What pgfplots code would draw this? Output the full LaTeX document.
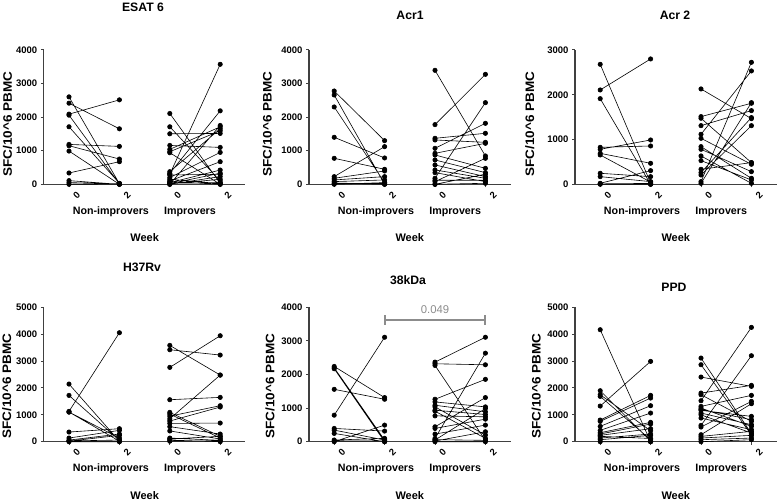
\documentclass[border=0pt]{standalone}
\usepackage{fontspec}
\setmainfont{Liberation Sans}
\usepackage{pgfplots}
\pgfplotsset{compat=1.18}
\definecolor{axc}{gray}{0.25}
\definecolor{sig}{gray}{0.55}
\pgfplotsset{
 panel/.style={scale only axis, width=201.6pt, height=134.3pt, anchor=south west,
  xmin=-0.5, xmax=3.5, ymin=0, axis lines=left,
  axis line style={-, line width=1.3pt, axc}, clip=false,
  xtick={0,1,2,3}, xticklabels={0,2,0,2}, tick align=outside, major tick length=3pt,
  tick style={line width=1pt, axc},
  ticklabel style={font=\fontsize{9.5}{9.5}\selectfont\bfseries},
  xticklabel style={rotate=45, anchor=center, yshift=-11pt},
  /pgf/number format/assume math mode=true, scaled y ticks=false,
  yticklabel style={/pgf/number format/1000 sep={}},
  unbounded coords=jump},
 pr/.style={black, line width=0.6pt, mark=*, mark size=2.2pt, mark options={solid}},
}
\newcommand{\grouplabels}{%
 \node[font=\fontsize{10.7}{10.7}\selectfont\bfseries] at (axis cs:0.83,0) [yshift=-27.4pt] {Non-improvers};
 \node[font=\fontsize{10.7}{10.7}\selectfont\bfseries] at (axis cs:2.4,0) [yshift=-27.4pt] {Improvers};
 \node[font=\fontsize{11}{11}\selectfont\bfseries] at (axis cs:1.5,0) [yshift=-53.4pt] {Week};
}
\newcommand{\ylab}{\scalebox{1.1}[1]{SFC/10\^{}6 PBMC}}
\begin{document}
\begin{tikzpicture}[x=1pt,y=1pt]
\path[use as bounding box] (0,0) rectangle (778,500);
\tikzset{ttl/.style={font=\fontsize{12.2}{12.2}\selectfont\bfseries}, yl/.style={rotate=90, font=\fontsize{12.3}{12.3}\selectfont\bfseries}}
% titles
\node[ttl] at (143,492.5) {ESAT 6};
\node[ttl] at (410,485) {Acr1};
\node[ttl] at (675,485) {Acr 2};
\node[ttl] at (142,233) {H37Rv};
\node[ttl] at (408,220) {38kDa};
\node[ttl] at (674,213) {PPD};
% y labels
\node[yl] at (7.5,376) {\ylab};
\node[yl] at (267.3,376) {\ylab};
\node[yl] at (529.7,376) {\ylab};
\node[yl] at (6.7,114) {\ylab};
\node[yl] at (270,114) {\ylab};
\node[yl] at (536.3,114) {\ylab};

% ESAT 6
\begin{axis}[panel, at={(43.8pt,315.7pt)}, ymax=4000, ytick={0,1000,2000,3000,4000}]
\addplot[pr] coordinates {(0,2604)(1,20)(nan,nan)(0,2416)(1,1653)(nan,nan)(0,2089)(1,2515)(nan,nan)(0,2059)(1,10)(nan,nan)(0,1713)(1,30)(nan,nan)(0,1188)(1,1129)(nan,nan)(0,1149)(1,752)(nan,nan)(0,990)(1,0)(nan,nan)(0,337)(1,673)(nan,nan)(0,109)(1,0)(nan,nan)(0,50)(1,15)(nan,nan)(0,0)(1,5)};
\addplot[pr] coordinates {(2,2109)(3,30)(nan,nan)(2,1713)(3,100)(nan,nan)(2,1505)(3,1515)(nan,nan)(2,1158)(3,1099)(nan,nan)(2,1040)(3,1713)(nan,nan)(2,970)(3,1594)(nan,nan)(2,940)(3,0)(nan,nan)(2,376)(3,1653)(nan,nan)(2,300)(3,3574)(nan,nan)(2,327)(3,2188)(nan,nan)(2,277)(3,300)(nan,nan)(2,200)(3,950)(nan,nan)(2,100)(3,673)(nan,nan)(2,50)(3,425)(nan,nan)(2,20)(3,330)(nan,nan)(2,0)(3,230)(nan,nan)(2,0)(3,1752)(nan,nan)(2,150)(3,20)(nan,nan)(2,80)(3,0)(nan,nan)(2,30)(3,50)(nan,nan)(2,10)(3,150)};
\grouplabels
\end{axis}

% Acr1
\begin{axis}[panel, at={(309pt,315.7pt)}, ymax=4000, ytick={0,1000,2000,3000,4000}]
\addplot[pr] coordinates {(0,2779)(1,1300)(nan,nan)(0,2660)(1,0)(nan,nan)(0,2303)(1,50)(nan,nan)(0,1400)(1,784)(nan,nan)(0,774)(1,447)(nan,nan)(0,228)(1,1122)(nan,nan)(0,180)(1,397)(nan,nan)(0,130)(1,228)(nan,nan)(0,80)(1,130)(nan,nan)(0,40)(1,0)(nan,nan)(0,0)(1,50)(nan,nan)(0,20)(1,20)};
\addplot[pr] coordinates {(2,3395)(3,844)(nan,nan)(2,1777)(3,3275)(nan,nan)(2,1370)(3,1519)(nan,nan)(2,1320)(3,1250)(nan,nan)(2,1072)(3,1816)(nan,nan)(2,923)(3,1221)(nan,nan)(2,873)(3,476)(nan,nan)(2,725)(3,347)(nan,nan)(2,576)(3,228)(nan,nan)(2,427)(3,179)(nan,nan)(2,347)(3,80)(nan,nan)(2,179)(3,2432)(nan,nan)(2,80)(3,774)(nan,nan)(2,0)(3,300)(nan,nan)(2,0)(3,30)(nan,nan)(2,120)(3,120)};
\grouplabels
\end{axis}

% Acr 2
\begin{axis}[panel, at={(575pt,315.7pt)}, ymax=3000, ytick={0,1000,2000,3000}]
\addplot[pr] coordinates {(0,2680)(1,30)(nan,nan)(0,2107)(1,2800)(nan,nan)(0,1913)(1,0)(nan,nan)(0,826)(1,856)(nan,nan)(0,782)(1,990)(nan,nan)(0,692)(1,469)(nan,nan)(0,655)(1,50)(nan,nan)(0,246)(1,171)(nan,nan)(0,171)(1,60)(nan,nan)(0,22)(1,305)(nan,nan)(0,0)(1,0)(nan,nan)(0,10)(1,20)};
\addplot[pr] coordinates {(2,2130)(3,1467)(nan,nan)(2,1512)(3,1810)(nan,nan)(2,1475)(3,484)(nan,nan)(2,1310)(3,1646)(nan,nan)(2,1117)(3,2532)(nan,nan)(2,1027)(3,447)(nan,nan)(2,841)(3,134)(nan,nan)(2,782)(3,283)(nan,nan)(2,633)(3,22)(nan,nan)(2,529)(3,97)(nan,nan)(2,335)(3,484)(nan,nan)(2,261)(3,1490)(nan,nan)(2,208)(3,1310)(nan,nan)(2,60)(3,2725)(nan,nan)(2,22)(3,1824)};
\grouplabels
\end{axis}

% H37Rv
\begin{axis}[panel, at={(43.8pt,58.3pt)}, ymax=5000, ytick={0,1000,2000,3000,4000,5000}]
\addplot[pr] coordinates {(0,1129)(1,4057)(nan,nan)(0,2146)(1,20)(nan,nan)(0,1724)(1,50)(nan,nan)(0,1104)(1,136)(nan,nan)(0,1104)(1,20)(nan,nan)(0,360)(1,484)(nan,nan)(0,136)(1,422)(nan,nan)(0,60)(1,285)(nan,nan)(0,20)(1,236)(nan,nan)(0,0)(1,0)(nan,nan)(0,30)(1,60)};
\addplot[pr] coordinates {(2,3586)(3,2481)(nan,nan)(2,3424)(3,3226)(nan,nan)(2,2767)(3,3945)(nan,nan)(2,1563)(3,1650)(nan,nan)(2,850)(3,2481)(nan,nan)(2,1092)(3,200)(nan,nan)(2,1030)(3,136)(nan,nan)(2,950)(3,1340)(nan,nan)(2,770)(3,1290)(nan,nan)(2,680)(3,695)(nan,nan)(2,560)(3,285)(nan,nan)(2,400)(3,100)(nan,nan)(2,136)(3,50)(nan,nan)(2,60)(3,0)(nan,nan)(2,100)(3,200)(nan,nan)(2,20)(3,30)};
\grouplabels
\end{axis}

% 38kDa
\begin{axis}[panel, at={(309pt,58.3pt)}, ymax=4000, ytick={0,1000,2000,3000,4000}]
\addplot[pr] coordinates {(0,790)(1,3111)(nan,nan)(0,2242)(1,1314)(nan,nan)(0,1560)(1,1264)(nan,nan)(0,2202)(1,50)(nan,nan)(0,2173)(1,0)(nan,nan)(0,395)(1,316)(nan,nan)(0,345)(1,50)(nan,nan)(0,247)(1,0)(nan,nan)(0,0)(1,494)(nan,nan)(0,50)(1,99)(nan,nan)(0,20)(1,20)};
\addplot[pr] coordinates {(2,2370)(3,3111)(nan,nan)(2,2321)(3,2291)(nan,nan)(2,2272)(3,40)(nan,nan)(2,1264)(3,1857)(nan,nan)(2,1185)(3,1037)(nan,nan)(2,1086)(3,889)(nan,nan)(2,1037)(3,198)(nan,nan)(2,938)(3,810)(nan,nan)(2,909)(3,99)(nan,nan)(2,770)(3,741)(nan,nan)(2,444)(3,1314)(nan,nan)(2,395)(3,672)(nan,nan)(2,227)(3,494)(nan,nan)(2,99)(3,2637)(nan,nan)(2,50)(3,988)(nan,nan)(2,20)(3,296)(nan,nan)(2,0)(3,0)(nan,nan)(2,60)(3,40)};
\draw[sig, line width=2pt] (axis cs:1,3627) -- (axis cs:3,3627);
\draw[sig, line width=2pt] (axis cs:1,3490) -- (axis cs:1,3760);
\draw[sig, line width=2pt] (axis cs:3,3490) -- (axis cs:3,3760);
\node[sig, font=\fontsize{11.3}{11.3}\selectfont] at (axis cs:2,3930) {0.049};
\grouplabels
\end{axis}

% PPD
\begin{axis}[panel, at={(575pt,58.3pt)}, ymax=5000, ytick={0,1000,2000,3000,4000,5000}]
\addplot[pr] coordinates {(0,4169)(1,0)(nan,nan)(0,1327)(1,2990)(nan,nan)(0,1898)(1,20)(nan,nan)(0,1749)(1,409)(nan,nan)(0,1687)(1,74)(nan,nan)(0,806)(1,1725)(nan,nan)(0,757)(1,1625)(nan,nan)(0,571)(1,1340)(nan,nan)(0,422)(1,1067)(nan,nan)(0,335)(1,720)(nan,nan)(0,285)(1,658)(nan,nan)(0,236)(1,484)(nan,nan)(0,136)(1,285)(nan,nan)(0,74)(1,236)(nan,nan)(0,0)(1,0)(nan,nan)(0,200)(1,120)};
\addplot[pr] coordinates {(2,3114)(3,300)(nan,nan)(2,2866)(3,250)(nan,nan)(2,2407)(3,2060)(nan,nan)(2,1811)(3,2097)(nan,nan)(2,1749)(3,757)(nan,nan)(2,1526)(3,4256)(nan,nan)(2,1315)(3,1725)(nan,nan)(2,1253)(3,571)(nan,nan)(2,1166)(3,943)(nan,nan)(2,1067)(3,633)(nan,nan)(2,881)(3,447)(nan,nan)(2,608)(3,3201)(nan,nan)(2,546)(3,1501)(nan,nan)(2,260)(3,1414)(nan,nan)(2,198)(3,385)(nan,nan)(2,136)(3,236)(nan,nan)(2,74)(3,136)(nan,nan)(2,0)(3,74)(nan,nan)(2,1200)(3,819)(nan,nan)(2,1000)(3,323)};
\grouplabels
\end{axis}
\end{tikzpicture}
\end{document}
